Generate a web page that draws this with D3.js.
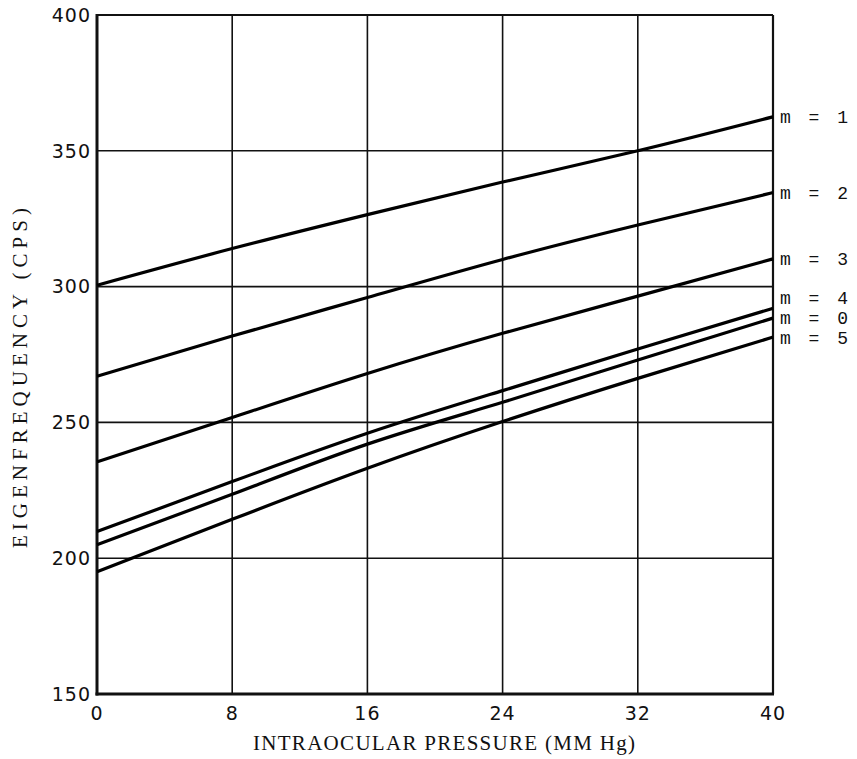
<!DOCTYPE html>
<html lang="en">
<head>
  <meta charset="UTF-8" />
  <title>Eigenfrequency vs Intraocular Pressure</title>
  <script src="https://d3js.org/d3.v7.min.js"></script>
  <style>
    body {
      margin: 0;
      background: #fff;
    }
    svg {
      display: block;
    }
    .tick-label {
      font-family: "DejaVu Sans", sans-serif;
      font-size: 19px;
      letter-spacing: 1px;
      fill: #111;
    }
    .title {
      font-family: "Liberation Serif", "DejaVu Serif", serif;
      font-size: 21px;
      fill: #111;
    }
    .mode-label {
      font-family: "Liberation Mono", "DejaVu Sans Mono", monospace;
      font-size: 18px;
      fill: #111;
      white-space: pre;
    }
  </style>
</head>
<body>
  <div id="chart"></div>

  <script>
    // Data (x = pressure in mm Hg, y = eigenfrequency in cps)
    const pressure = [0, 8, 16, 24, 32, 40];
    const modes = ["1", "2", "3", "4", "0", "5"];
    const m1 = [300.5, 314, 326.5, 338.5, 350, 362.5];
    const m2 = [267, 281.8, 296, 310, 322.7, 334.6];
    const m3 = [235.5, 251.8, 268, 282.8, 296.5, 310.2];
    const m4 = [209.8, 228.2, 246, 261.7, 277, 292];
    const m0 = [205, 223.5, 242, 257.4, 273, 288.4];
    const m5 = [195, 214.3, 233.1, 250.3, 266.2, 281.4];
    const xTicks = [0, 8, 16, 24, 32, 40];
    const yTicks = [150, 200, 250, 300, 350, 400];

    const seriesValues = [m1, m2, m3, m4, m0, m5];
    const series = modes.map((m, i) => ({
      mode: m,
      points: pressure.map((p, j) => ({ x: p, y: seriesValues[i][j] }))
    }));

    const width = 857, height = 759;
    const plot = { left: 97, right: 773, top: 15, bottom: 694 };

    const svg = d3.select("#chart").append("svg")
      .attr("width", width)
      .attr("height", height);

    const x = d3.scaleLinear().domain([0, 40]).range([plot.left, plot.right]);
    const y = d3.scaleLinear().domain([150, 400]).range([plot.bottom, plot.top]);

    // grid
    svg.append("g")
      .selectAll("line")
      .data(xTicks.slice(1, -1))
      .enter()
      .append("line")
      .attr("x1", d => x(d)).attr("x2", d => x(d))
      .attr("y1", plot.top).attr("y2", plot.bottom)
      .attr("stroke", "#111")
      .attr("stroke-width", 1.6);

    svg.append("g")
      .selectAll("line")
      .data(yTicks.slice(1, -1))
      .enter()
      .append("line")
      .attr("x1", plot.left).attr("x2", plot.right)
      .attr("y1", d => y(d)).attr("y2", d => y(d))
      .attr("stroke", "#111")
      .attr("stroke-width", 1.6);

    // frame
    svg.append("line")
      .attr("x1", plot.left).attr("x2", plot.right).attr("y1", plot.top).attr("y2", plot.top)
      .attr("stroke", "#111").attr("stroke-width", 2.2);
    svg.append("line")
      .attr("x1", plot.right).attr("x2", plot.right).attr("y1", plot.top).attr("y2", plot.bottom)
      .attr("stroke", "#111").attr("stroke-width", 2.2);
    svg.append("line")
      .attr("x1", plot.left).attr("x2", plot.left).attr("y1", plot.top - 1).attr("y2", plot.bottom + 1.5)
      .attr("stroke", "#111").attr("stroke-width", 3);
    svg.append("line")
      .attr("x1", plot.left - 1.5).attr("x2", plot.right + 1).attr("y1", plot.bottom).attr("y2", plot.bottom)
      .attr("stroke", "#111").attr("stroke-width", 3);

    // curves
    const line = d3.line()
      .x(d => x(d.x))
      .y(d => y(d.y))
      .curve(d3.curveNatural);

    svg.append("g")
      .selectAll("path")
      .data(series)
      .enter()
      .append("path")
      .attr("d", d => line(d.points))
      .attr("fill", "none")
      .attr("stroke", "#000")
      .attr("stroke-width", 3.2);

    // mode labels at the right end of each curve (the three low ones are stacked)
    const labelNudge = { "4": -11, "0": -0.5, "5": 1 };
    svg.append("g")
      .selectAll("text")
      .data(series)
      .enter()
      .append("text")
      .attr("class", "mode-label")
      .attr("x", plot.right + 7)
      .attr("y", d => y(d.points[d.points.length - 1].y) + (labelNudge[d.mode] || 0))
      .attr("dy", "0.35em")
      .attr("textLength", 68)
      .attr("lengthAdjust", "spacing")
      .text(d => "m = " + d.mode);

    // tick labels
    svg.append("g")
      .selectAll("text")
      .data(xTicks)
      .enter()
      .append("text")
      .attr("class", "tick-label")
      .attr("x", d => x(d))
      .attr("y", 720)
      .attr("text-anchor", "middle")
      .text(d => d);

    svg.append("g")
      .selectAll("text")
      .data(yTicks)
      .enter()
      .append("text")
      .attr("class", "tick-label")
      .attr("x", plot.left - 6)
      .attr("y", d => y(d))
      .attr("dy", "0.36em")
      .attr("text-anchor", "end")
      .text(d => d);

    // axis titles
    svg.append("text")
      .attr("class", "title")
      .attr("x", 444)
      .attr("y", 750)
      .attr("text-anchor", "middle")
      .attr("textLength", 382)
      .attr("lengthAdjust", "spacing")
      .text("INTRAOCULAR PRESSURE (MM Hg)");

    svg.append("text")
      .attr("class", "title")
      .attr("transform", "translate(27,378) rotate(-90)")
      .attr("text-anchor", "middle")
      .attr("textLength", 340)
      .attr("lengthAdjust", "spacing")
      .text("EIGENFREQUENCY (CPS)");
  </script>
</body>
</html>
